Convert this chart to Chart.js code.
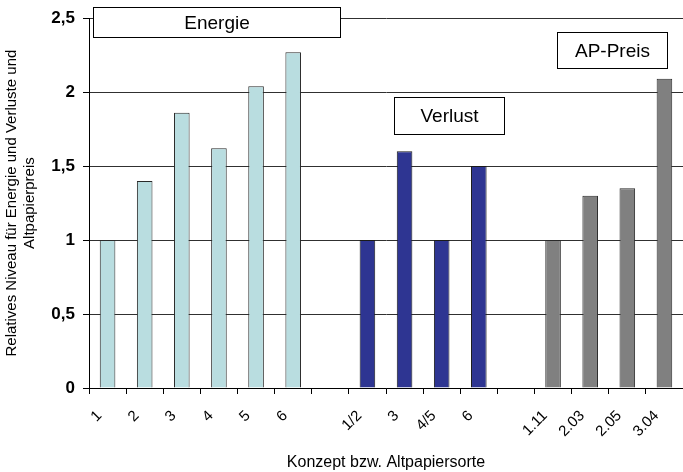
<!DOCTYPE html>
<html>
<head>
<meta charset="utf-8">
<script src="https://cdn.jsdelivr.net/npm/chart.js@4"></script>
<style>
  html, body { margin: 0; padding: 0; background: #ffffff; }
  canvas { display: block; }
</style>
</head>
<body>
<canvas id="c" width="683" height="472"></canvas>
<script>
// ---- Data ----
const energieLabels = ['1', '2', '3', '4', '5', '6'];
const energieValues = [1, 1.4, 1.86, 1.62, 2.04, 2.27];
const verlustLabels = ['1/2', '3', '4/5', '6'];
const verlustValues = [1, 1.6, 1, 1.5];
const apLabels = ['1.11', '2.03', '2.05', '3.04'];
const apValues = [1, 1.3, 1.35, 2.09];
const yTickValues = [0, 0.5, 1, 1.5, 2, 2.5];
const groupNames = ['Energie', 'Verlust', 'AP-Preis'];
const xTitle = 'Konzept bzw. Altpapiersorte';
const yTitle = ['Relatives Niveau für Energie und Verluste und', 'Altpapierpreis'];

// ---- Build category axis with empty gap categories between the groups ----
const categories = [...energieLabels, '', ...verlustLabels, '', ...apLabels];
const nE = energieLabels.length, nV = verlustLabels.length, nA = apLabels.length;
const pad = (n) => Array(n).fill(null);
const energieData = [...energieValues, ...pad(1 + nV + 1 + nA)];
const verlustData = [...pad(nE + 1), ...verlustValues, ...pad(1 + nA)];
const apData = [...pad(nE + 1 + nV + 1), ...apValues];

const FONT = "'Liberation Sans', Arial, Helvetica, sans-serif";

const bg = {
  id: 'bg',
  beforeDraw(chart) {
    const ctx = chart.ctx;
    ctx.save();
    ctx.fillStyle = '#ffffff';
    ctx.fillRect(0, 0, chart.width, chart.height);
    ctx.restore();
  }
};

// Group name boxes (annotations)
const boxes = {
  id: 'boxes',
  afterDraw(chart) {
    const ctx = chart.ctx;
    const defs = [
      { text: groupNames[0], x0: 93, y0: 7, x1: 340, y1: 37 },
      { text: groupNames[1], x0: 394, y0: 97, x1: 504, y1: 134 },
      { text: groupNames[2], x0: 557, y0: 32, x1: 667, y1: 68 }
    ];
    ctx.save();
    defs.forEach(d => {
      ctx.fillStyle = '#ffffff';
      ctx.fillRect(d.x0, d.y0, d.x1 - d.x0, d.y1 - d.y0);
      ctx.strokeStyle = '#000000';
      ctx.lineWidth = 1;
      ctx.strokeRect(d.x0 + 0.5, d.y0 + 0.5, d.x1 - d.x0, d.y1 - d.y0);
      ctx.fillStyle = '#000000';
      ctx.font = '19px ' + FONT;
      ctx.textAlign = 'center';
      ctx.textBaseline = 'middle';
      ctx.fillText(d.text, (d.x0 + d.x1) / 2 + 0.5, (d.y0 + d.y1) / 2 + 1.5);
    });
    ctx.restore();
  }
};

new Chart(document.getElementById('c'), {
  type: 'bar',
  data: {
    labels: categories,
    datasets: [
      { label: groupNames[0], data: energieData, backgroundColor: '#B9DDE0', borderColor: '#2a2a2a', borderWidth: 1, grouped: false },
      { label: groupNames[1], data: verlustData, backgroundColor: '#2E3592', borderColor: '#1a1a1a', borderWidth: 1, grouped: false },
      { label: groupNames[2], data: apData, backgroundColor: '#808080', borderColor: '#2a2a2a', borderWidth: 1, grouped: false }
    ]
  },
  options: {
    responsive: false,
    animation: false,
    devicePixelRatio: 1,
    layout: { padding: { top: 18, left: 0, right: 0, bottom: 0 } },
    plugins: {
      legend: { display: false },
      tooltip: { enabled: false }
    },
    datasets: {
      bar: { barPercentage: 0.42, categoryPercentage: 1.0 }
    },
    scales: {
      x: {
        type: 'category',
        offset: true,
        grid: {
          display: true,
          offset: true,
          drawOnChartArea: false,
          drawTicks: true,
          tickLength: 6,
          tickColor: '#000000',
          color: '#000000'
        },
        border: { display: true, color: '#000000', width: 1 },
        ticks: {
          autoSkip: false,
          maxRotation: 45,
          minRotation: 45,
          labelOffset: -8,
          padding: 13,
          color: '#000000',
          font: { family: FONT, size: 15 }
        },
        title: {
          display: true,
          text: xTitle,
          color: '#000000',
          font: { family: FONT, size: 16 },
          padding: { top: 0, bottom: 0 }
        },
        afterFit(scale) {
          scale.height = 84;
          scale.paddingLeft = 0;
          scale.paddingRight = 0;
        }
      },
      y: {
        min: 0,
        max: 2.5,
        afterBuildTicks(scale) { scale.ticks = yTickValues.map(v => ({ value: v })); },
        grid: {
          color: '#303030',
          lineWidth: 1,
          drawTicks: true,
          tickLength: 6,
          tickColor: '#000000'
        },
        border: { display: true, color: '#000000', width: 1 },
        ticks: {
          padding: 8,
          color: '#000000',
          font: { family: FONT, size: 17, weight: 'bold' },
          callback: (v) => String(v).replace('.', ',')
        },
        title: {
          display: true,
          text: yTitle,
          color: '#000000',
          font: { family: FONT, size: 15, lineHeight: 1.2 },
          padding: { top: 3, bottom: 0 }
        },
        afterFit(scale) { scale.width = 89; }
      }
    }
  },
  plugins: [bg, boxes]
});
</script>
</body>
</html>
